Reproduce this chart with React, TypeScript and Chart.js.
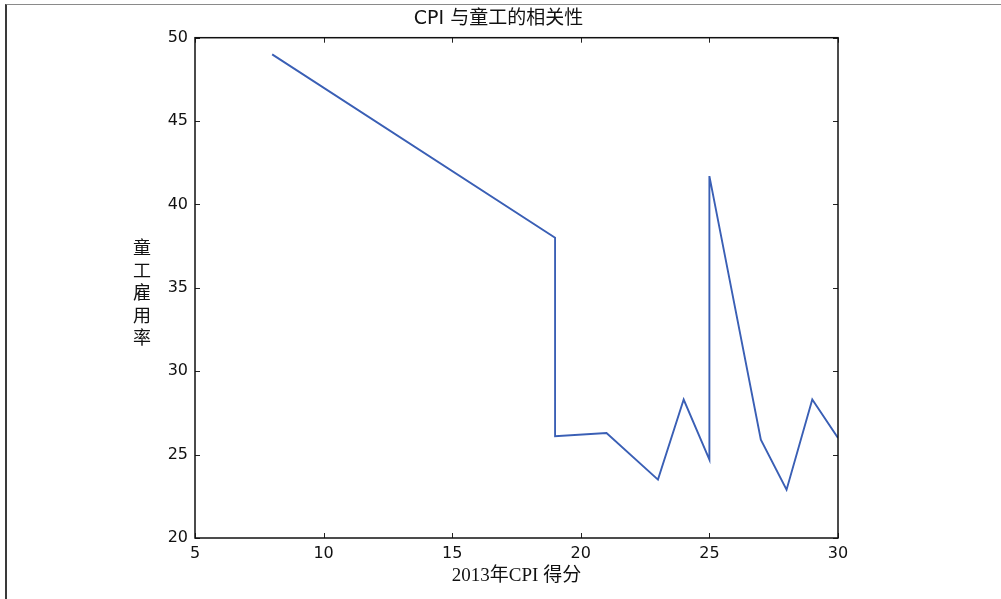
import React, { useEffect, useRef } from "react";
import { Chart, registerables } from "chart.js";

Chart.register(...registerables);

const chartTitle = "CPI 与童工的相关性";
const xAxisTitle = "2013年CPI 得分";
const yAxisTitle = "童工雇用率";
const cpiScores = [8, 19, 19, 21, 23, 24, 25, 25, 27, 28, 29, 30];
const childLaborRates = [49, 38, 26.1, 26.3, 23.5, 28.3, 24.7, 41.7, 25.9, 22.9, 28.3, 26.0];
const xRange = [5, 30];
const yRange = [20, 50];
const tickStep = 5;

const frameAndTicks = {
  id: "frameAndTicks",
  afterDatasetsDraw(chart: any) {
    const { ctx, chartArea: a, scales } = chart;
    const len = 5;
    ctx.save();
    ctx.strokeStyle = "#222";
    ctx.lineWidth = 1;
    ctx.beginPath();
    scales.x.ticks.forEach((t: any) => {
      const px = Math.round(scales.x.getPixelForValue(t.value)) + 0.5;
      ctx.moveTo(px, a.bottom);
      ctx.lineTo(px, a.bottom - len);
      ctx.moveTo(px, a.top);
      ctx.lineTo(px, a.top + len);
    });
    scales.y.ticks.forEach((t: any) => {
      const py = Math.round(scales.y.getPixelForValue(t.value)) + 0.5;
      ctx.moveTo(a.left, py);
      ctx.lineTo(a.left + len, py);
      ctx.moveTo(a.right, py);
      ctx.lineTo(a.right - len, py);
    });
    ctx.stroke();
    ctx.lineWidth = 1.5;
    ctx.strokeStyle = "#111";
    ctx.strokeRect(a.left, a.top, a.right - a.left, a.bottom - a.top);

    ctx.fillStyle = "#111";
    ctx.textAlign = "center";
    ctx.textBaseline = "middle";
    // chart title
    ctx.font = '19px "DejaVu Sans", "Noto Sans CJK SC", sans-serif';
    ctx.fillText(chartTitle, 498.5, 19.5);
    // vertical stacked y-axis title
    ctx.font = '18px "Liberation Serif", "Noto Sans CJK SC", serif';
    const chars = Array.from(yAxisTitle);
    const step = 22.6;
    const cy = 294.5;
    chars.forEach((c, i) => {
      ctx.fillText(c, 142, cy + (i - (chars.length - 1) / 2) * step);
    });
    ctx.restore();
  },
};

export default function App() {
  const ref = useRef<HTMLCanvasElement>(null);
  useEffect(() => {
    if (!ref.current) return;
    const chart = new Chart(ref.current, {
      type: "line",
      data: {
        datasets: [
          {
            data: cpiScores.map((x, i) => ({ x, y: childLaborRates[i] })),
            borderColor: "#3a5fb5",
            borderWidth: 1.9,
            pointRadius: 0,
            tension: 0,
            fill: false,
          },
        ],
      },
      options: {
        animation: false,
        responsive: false,
        maintainAspectRatio: false,
        layout: { padding: { left: 0, right: 163, top: 37.7, bottom: 0 } },
        plugins: {
          legend: { display: false },
          tooltip: { enabled: false },
          title: { display: false },
        },
        scales: {
          x: {
            type: "linear",
            min: xRange[0],
            max: xRange[1],
            grid: { display: false, drawTicks: false, tickLength: 0 },
            border: { display: false },
            ticks: {
              stepSize: tickStep,
              color: "#111",
              padding: 6,
              maxRotation: 0,
              font: { family: '"DejaVu Sans", sans-serif', size: 16 },
            },
            title: {
              display: true,
              text: xAxisTitle,
              color: "#111",
              font: { family: '"Liberation Serif", "Noto Sans CJK SC", serif', size: 19 },
              padding: { top: 0, bottom: 11.6 },
            },
            afterFit(scale: any) {
              scale.height = 61;
              scale.paddingLeft = 0;
              scale.paddingRight = 0;
            },
          },
          y: {
            type: "linear",
            min: yRange[0],
            max: yRange[1],
            grid: { display: false, drawTicks: false, tickLength: 0 },
            border: { display: false },
            ticks: {
              stepSize: tickStep,
              color: "#111",
              padding: 7,
              font: { family: '"DejaVu Sans", sans-serif', size: 16 },
            },
            afterFit(scale: any) {
              scale.width = 195;
              scale.paddingTop = 0;
              scale.paddingBottom = 0;
            },
          },
        },
      },
      plugins: [frameAndTicks],
    });
    return () => chart.destroy();
  }, []);

  return (
    <div style={{ position: "fixed", left: 0, top: 0, width: 1001, height: 599, background: "#fff", overflow: "hidden" }}>
      <div
        style={{
          position: "absolute",
          left: 5,
          top: 4,
          width: 1100,
          height: 700,
          borderTop: "1.5px solid #8a8a8a",
          borderLeft: "2px solid #3a3a3a",
        }}
      />
      <canvas ref={ref} width={1001} height={599} style={{ position: "absolute", left: 0, top: 0 }} />
    </div>
  );
}
